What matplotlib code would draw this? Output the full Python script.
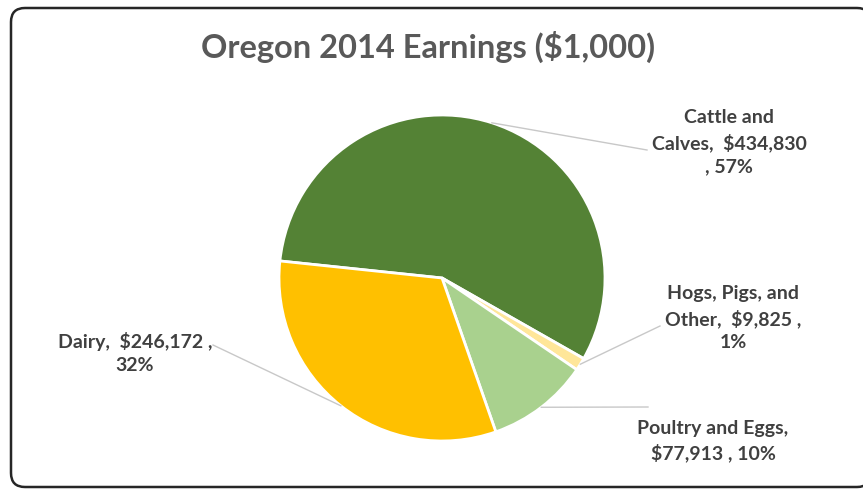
import numpy as np
import matplotlib
matplotlib.use("Agg")
import matplotlib.pyplot as plt
from matplotlib.patches import FancyBboxPatch

# データ
categories = ["Cattle and Calves", "Hogs, Pigs, and Other", "Poultry and Eggs", "Dairy"]
earnings = [434830, 9825, 77913, 246172]
percents = ["57%", "1%", "10%", "32%"]
colors = ["#548235", "#FFE699", "#A9D18E", "#FFC000"]

label_texts = [
    "Cattle and\nCalves,  $434,830\n, 57%",
    "Hogs, Pigs, and\nOther,  $9,825 ,\n1%",
    "Poultry and Eggs,\n$77,913 , 10%",
    "Dairy,  $246,172 ,\n32%",
]
# ラベル位置 (pixel座標, 上原点)
label_pos = [(729, 142), (733, 318), (713, 441), (135, 353)]
leader_end = [(647, 150), (660, 326), (648, 407), (213, 345)]

W, H = 863, 491
plt.rcParams['font.family'] = ['Lato', 'DejaVu Sans']
fig = plt.figure(figsize=(W / 100, H / 100), dpi=100)
ax = fig.add_axes([0, 0, 1, 1])
ax.set_xlim(0, W)
ax.set_ylim(0, H)
ax.set_aspect('equal')
ax.axis('off')

# 枠
frame = FancyBboxPatch((11, 4), 860, 479, boxstyle="round,pad=0,rounding_size=14",
                       fc="white", ec="#262626", lw=1.8, zorder=0)
ax.add_patch(frame)

cx, cy, r = 442, H - 278, 163
wedges, _ = ax.pie(earnings, colors=colors, startangle=174, counterclock=False,
                   center=(cx, cy), radius=r, frame=True,
                   wedgeprops=dict(edgecolor="white", linewidth=2))
ax.set_xlim(0, W)
ax.set_ylim(0, H)
ax.axis('off')

for i, w in enumerate(wedges):
    ang = np.deg2rad((w.theta1 + w.theta2) / 2)
    x0 = cx + r * np.cos(ang)
    y0 = cy + r * np.sin(ang)
    ex, ey = leader_end[i]
    ax.plot([x0, ex], [y0, H - ey], color="#C8C8C8", lw=1, zorder=3)
    lx, ly = label_pos[i]
    ax.text(lx, H - ly, label_texts[i], ha="center", va="center", fontsize=14,
            fontweight="bold", color="#404040", linespacing=1.45, zorder=4)

ax.text(428, H - 47, "Oregon 2014 Earnings ($1,000)", ha="center", va="center",
        fontsize=23.5, fontweight="bold", color="#595959")

fig.savefig("out.png", dpi=100)
